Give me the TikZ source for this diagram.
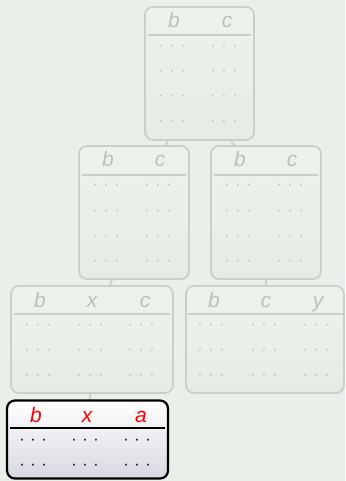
\documentclass[tikz,border=0pt]{standalone}
\usepackage{fontspec}
\setmainfont{Liberation Sans}
\definecolor{bg}{RGB}{232,240,232}
\definecolor{fline}{RGB}{201,208,201}
\definecolor{ftext}{RGB}{186,193,186}
\definecolor{fboxtop}{RGB}{237,242,237}
\definecolor{fboxbot}{RGB}{229,236,229}
\definecolor{hbot}{RGB}{216,216,226}
\newcommand\tdots{·\hspace{5.6pt}·\hspace{5.6pt}·}
\tikzset{
  fbox/.style={draw=fline, line width=1.8pt, rounded corners=8pt, top color=fboxtop, bottom color=fboxbot, inner sep=0pt},
  hbox/.style={draw=black, line width=2.2pt, rounded corners=8pt, top color=white, bottom color=hbot, inner sep=0pt},
  fhead/.style={text=ftext, font=\fontsize{21}{22}\selectfont\itshape, anchor=base, inner sep=0pt},
  hhead/.style={text=red, font=\fontsize{21}{22}\selectfont\itshape, anchor=base, inner sep=0pt},
  fdots/.style={text=ftext, font=\fontsize{16}{18}\selectfont, inner sep=0pt},
  hdots/.style={text=black, font=\fontsize{16}{18}\selectfont, inner sep=0pt},
  fsep/.style={draw=fline, line width=1.2pt},
  hsep/.style={draw=black, line width=1.2pt},
  conn/.style={draw=fline, line width=1.8pt}
}
\begin{document}
\begin{tikzpicture}[x=1pt,y=-1pt]
\fill[bg] (0,0) rectangle (345,481);
\useasboundingbox (0,0) rectangle (345,481);
% boxes
\node[fbox, minimum width=109pt, minimum height=133pt] (T) at (199.5,73.5) {};
\node[fbox, minimum width=110pt, minimum height=133pt] (L) at (134,212.5) {};
\node[fbox, minimum width=110pt, minimum height=133pt] (R) at (266,212.5) {};
\node[fbox, minimum width=162pt, minimum height=107pt] (LL) at (92,339.5) {};
\node[fbox, minimum width=158pt, minimum height=107pt] (RR) at (265,339.5) {};
\node[hbox, minimum width=161pt, minimum height=78pt] (H) at (87.5,439.5) {};
% connectors
\draw[conn] ([xshift=-31.5pt]T.south) -- ([xshift=31.5pt]L.north);
\draw[conn] ([xshift=31.5pt]T.south) -- ([xshift=-32pt]R.north);
\draw[conn] ([xshift=-22pt]L.south) -- ([xshift=18pt]LL.north);
\draw[conn] ([xshift=0pt]R.south) -- ([xshift=1pt]RR.north);
\draw[conn] ([xshift=-2pt]LL.south) -- ([xshift=2.5pt]H.north);
% top box
\node[fhead] (Tb) at (174,28) {b};
\node[fhead] (Tc) at (227,28) {c};
\draw[fsep] (148,35) -- (251,35);
\foreach \yy/\i in {48/1,73/2,98/3,123/4}{
  \node[fdots] (Td1\i) at (172,\yy) {\tdots};
  \node[fdots] (Td2\i) at (224,\yy) {\tdots};
}
% second row left
\node[fhead] (Lb) at (108,167) {b};
\node[fhead] (Lc) at (160,167) {c};
\draw[fsep] (82,175) -- (186,175);
\foreach \yy/\i in {187/1,213/2,238/3,263/4}{
  \node[fdots] (Ld1\i) at (106,\yy) {\tdots};
  \node[fdots] (Ld2\i) at (158,\yy) {\tdots};
}
% second row right
\node[fhead] (Rb) at (240,167) {b};
\node[fhead] (Rc) at (292,167) {c};
\draw[fsep] (214,175) -- (318,175);
\foreach \yy/\i in {187/1,213/2,238/3,263/4}{
  \node[fdots] (Rd1\i) at (238,\yy) {\tdots};
  \node[fdots] (Rd2\i) at (290,\yy) {\tdots};
}
% third row left
\node[fhead] (LLb) at (40,307) {b};
\node[fhead] (LLx) at (92,307) {x};
\node[fhead] (LLc) at (145,307) {c};
\draw[fsep] (14,314) -- (170,314);
\foreach \yy/\i in {327/1,352/2,377/3}{
  \node[fdots] (LLd1\i) at (38,\yy) {\tdots};
  \node[fdots] (LLd2\i) at (90,\yy) {\tdots};
  \node[fdots] (LLd3\i) at (141,\yy) {\tdots};
}
% third row right
\node[fhead] (RRb) at (214,307) {b};
\node[fhead] (RRc) at (266,307) {c};
\node[fhead] (RRy) at (318,307) {y};
\draw[fsep] (188,314) -- (344,314);
\foreach \yy/\i in {327/1,352/2,377/3}{
  \node[fdots] (RRd1\i) at (211,\yy) {\tdots};
  \node[fdots] (RRd2\i) at (264,\yy) {\tdots};
  \node[fdots] (RRd3\i) at (316,\yy) {\tdots};
}
% highlighted box
\node[hhead] (Hb) at (36,422) {b};
\node[hhead] (Hx) at (87,422) {x};
\node[hhead] (Ha) at (141,422) {a};
\draw[hsep] (10,428) -- (165,428);
\foreach \yy/\i in {442/1,467/2}{
  \node[hdots] (Hd1\i) at (33,\yy) {\tdots};
  \node[hdots] (Hd2\i) at (85,\yy) {\tdots};
  \node[hdots] (Hd3\i) at (137,\yy) {\tdots};
}
\end{tikzpicture}
\end{document}
